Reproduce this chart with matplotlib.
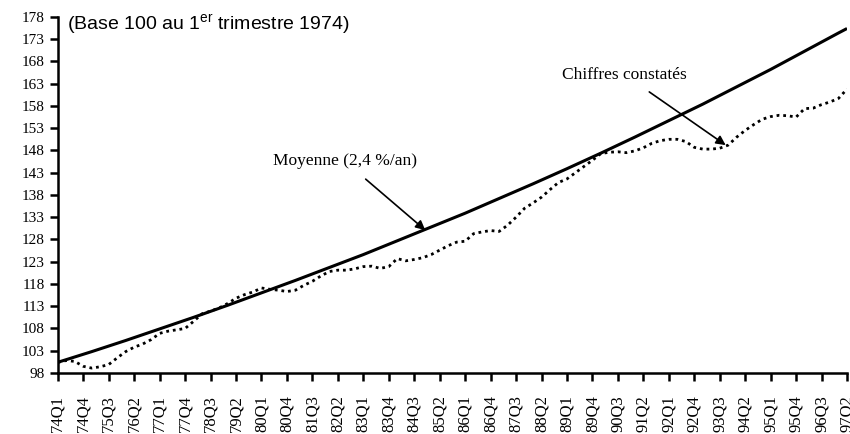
import numpy as np
import matplotlib.pyplot as plt

plt.rcParams['mathtext.fontset'] = 'custom'
plt.rcParams['mathtext.rm'] = 'Liberation Sans'

# quarters 74Q1 .. 97Q2
quarters = [f"{y % 100:02d}Q{q}" for y in range(1974, 1998) for q in range(1, 5)][:94]

observed = [
    100.4, 100.8, 100.6, 99.5, 99.1, 99.4, 99.9, 101.4, 102.8, 103.8,
    104.5, 105.5, 106.9, 107.4, 107.7, 108.0, 109.6, 111.3, 111.9, 112.6,
    113.6, 114.8, 115.6, 116.2, 117.1, 116.8, 116.6, 116.3, 116.6, 117.7,
    118.6, 119.8, 120.8, 121.1, 121.1, 121.4, 121.9, 122.0, 121.5, 121.9,
    123.7, 123.2, 123.5, 123.9, 124.6, 125.6, 126.6, 127.4, 127.6, 129.3,
    129.7, 130.0, 129.8, 131.2, 133.0, 135.0, 136.2, 137.5, 139.2, 140.8,
    141.6, 143.0, 144.4, 145.8, 147.3, 147.6, 147.7, 147.5, 147.9, 148.6,
    149.6, 150.2, 150.5, 150.5, 150.0, 148.7, 148.3, 148.3, 148.5, 149.2,
    151.0, 152.5, 153.8, 155.0, 155.6, 155.9, 155.8, 155.5, 157.4, 157.5,
    158.3, 158.9, 159.7, 161.8,
]

# average trend (2.4 %/an), read at each Q1 and at 97Q2
trend_idx = list(range(0, 93, 4)) + [93]
trend = [
    100.4, 102.8, 105.3, 107.9, 110.5, 113.2, 116.0, 118.8, 121.7, 124.6,
    127.7, 130.8, 133.9, 137.2, 140.5, 143.9, 147.4, 151.0, 154.7, 158.4,
    162.3, 166.2, 170.3, 174.4, 175.4,
]

yticks = list(range(98, 179, 5))

fig = plt.figure(figsize=(8.5, 4.34), dpi=100)
ax = fig.add_axes([0.068, 0.1406, 0.9285, 0.8204])

x = np.arange(len(observed))
ax.plot(x, observed, color='black', lw=2.0, linestyle=(0, (1, 1.4)))
ax.plot(trend_idx, trend, color='black', lw=2.2, solid_capstyle='butt')

ax.set_xlim(0, 93)
ax.set_ylim(98, 178)
ax.set_yticks(yticks)
ax.set_yticklabels([str(v) for v in yticks], family='Liberation Serif', fontsize=11)
ax.set_xticks(x[::3])
ax.set_xticklabels(quarters[::3], rotation=90, family='Liberation Serif', fontsize=12)

for side in ['top', 'right']:
    ax.spines[side].set_visible(False)
for side in ['left', 'bottom']:
    ax.spines[side].set_linewidth(1.8)
ax.tick_params(axis='both', direction='out', length=6, width=1.8, color='black')
ax.tick_params(axis='x', pad=10)

ax.text(1.1, 176.2, r'(Base 100 au 1$^{\mathrm{er}}$ trimestre 1974)',
        family='Liberation Sans', fontsize=14, va='center', ha='left')

ax.annotate('Moyenne (2,4 %/an)', xy=(43.3, 130.1), xytext=(33.8, 145.6),
            family='Liberation Serif', fontsize=12.5, ha='center', va='center',
            arrowprops=dict(arrowstyle='-|>', color='black', lw=1.2,
                            mutation_scale=14, shrinkA=8, shrinkB=0))
ax.annotate('Chiffres constatés', xy=(78.7, 149.2), xytext=(66.8, 165.0),
            family='Liberation Serif', fontsize=12.5, ha='center', va='center',
            arrowprops=dict(arrowstyle='-|>', color='black', lw=1.2,
                            mutation_scale=14, shrinkA=8, shrinkB=0))

fig.savefig('out.png', dpi=100)
